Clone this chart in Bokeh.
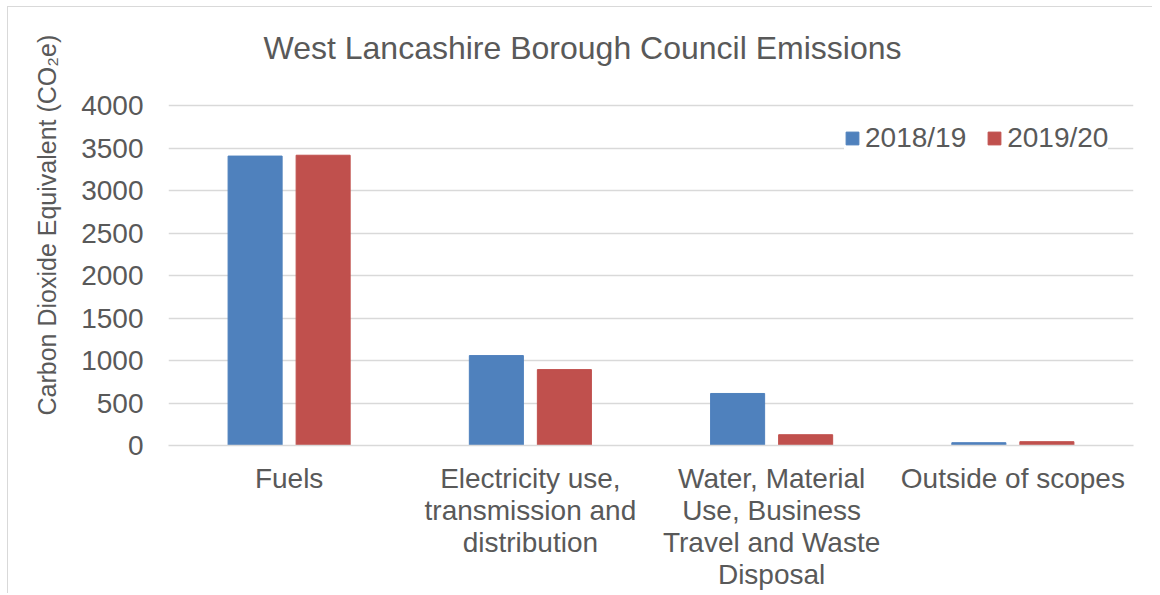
from bokeh.plotting import figure
from bokeh.models import Range1d, FixedTicker, Legend, LegendItem, Title, Label
from bokeh.embed import file_html
from bokeh.resources import INLINE

categories = ["Fuels", "Electricity use,\ntransmission and\ndistribution",
              "Water, Material\nUse, Business\nTravel and Waste\nDisposal", "Outside of scopes"]
series_names = ["2018/19", "2019/20"]
values_2018 = [3405, 1058, 612, 33]
values_2019 = [3415, 893, 127, 45]
colors = ["#4F81BD", "#C0504D"]
y_ticks = [0, 500, 1000, 1500, 2000, 2500, 3000, 3500, 4000]
title_text = "West Lancashire Borough Council Emissions"
y_label = "Carbon Dioxide Equivalent (CO\u2082e)"

FONT = "Liberation Sans"
TXT = "#595959"
FS = "28px"

# plotting area: 340 px for 0..4000 plus 98 px of headroom that holds the title
AXIS_PX = 340
HEAD_PX = 98
ppu = AXIS_PX / max(y_ticks)
y_top = max(y_ticks) + HEAD_PX / ppu

p = figure(frame_width=965, frame_height=AXIS_PX + HEAD_PX, output_backend="svg", toolbar_location=None,
           x_range=Range1d(0, len(categories)), y_range=Range1d(0, y_top),
           min_border_left=160, min_border_right=19, min_border_top=0, min_border_bottom=100)
p.outline_line_color = None
p.background_fill_color = "white"
p.border_fill_color = "white"
p.styles = {"border-left": "1px solid #d9d9d9", "border-top": "1px solid #d9d9d9",
            "margin-left": "7px", "margin-top": "6px"}

centers = [i + 0.5 for i in range(len(categories))]
off = 0.141
w = 0.224
r1 = p.vbar(x=[c - off for c in centers], top=values_2018, width=w, color=colors[0])
r2 = p.vbar(x=[c + off for c in centers], top=values_2019, width=w, color=colors[1])

# axes
p.xaxis.ticker = FixedTicker(ticks=centers)
p.xaxis.major_label_overrides = {c: lab for c, lab in zip(centers, categories)}
p.xaxis.major_label_text_font = FONT
p.xaxis.major_label_text_font_size = FS
p.xaxis.major_label_text_color = TXT
p.xaxis.major_label_text_line_height = 1.04
p.xaxis.axis_line_color = "#d9d9d9"
p.xaxis.axis_line_width = 1.5
p.xaxis.major_tick_line_color = None
p.xaxis.minor_tick_line_color = None
p.xaxis.major_label_standoff = 11

p.yaxis.ticker = FixedTicker(ticks=y_ticks)
p.yaxis.major_label_text_font = FONT
p.yaxis.major_label_text_font_size = FS
p.yaxis.major_label_text_color = TXT
p.yaxis.axis_line_color = None
p.yaxis.major_tick_line_color = None
p.yaxis.minor_tick_line_color = None
p.yaxis.major_label_standoff = 19

p.xgrid.grid_line_color = None
p.ygrid.grid_line_color = "#d9d9d9"
p.ygrid.grid_line_width = 1.5
p.ygrid.ticker = FixedTicker(ticks=y_ticks)

# title inside the headroom
p.add_layout(Label(x=0.394, y=max(y_ticks) + 58 / ppu, text=title_text,
                   text_font=FONT, text_font_size="32px", text_color=TXT,
                   text_align="left", text_baseline="middle"))

# y-axis label as a side title
ylab = Title(text=y_label, align="left", offset=30, standoff=35,
             text_font=FONT, text_font_size="25px", text_font_style="normal", text_color=TXT)
p.add_layout(ylab, "left")

legend = Legend(items=[LegendItem(label=series_names[0], renderers=[r1]),
                       LegendItem(label=series_names[1], renderers=[r2])],
                orientation="horizontal", location=(676, 291),
                glyph_width=16, glyph_height=16, label_standoff=5, spacing=20,
                padding=4, margin=0,
                label_text_font=FONT, label_text_font_size=FS, label_text_color=TXT,
                border_line_color=None, background_fill_color="white", background_fill_alpha=1)
p.add_layout(legend)

open("out.html", "w").write(file_html(p, INLINE))
